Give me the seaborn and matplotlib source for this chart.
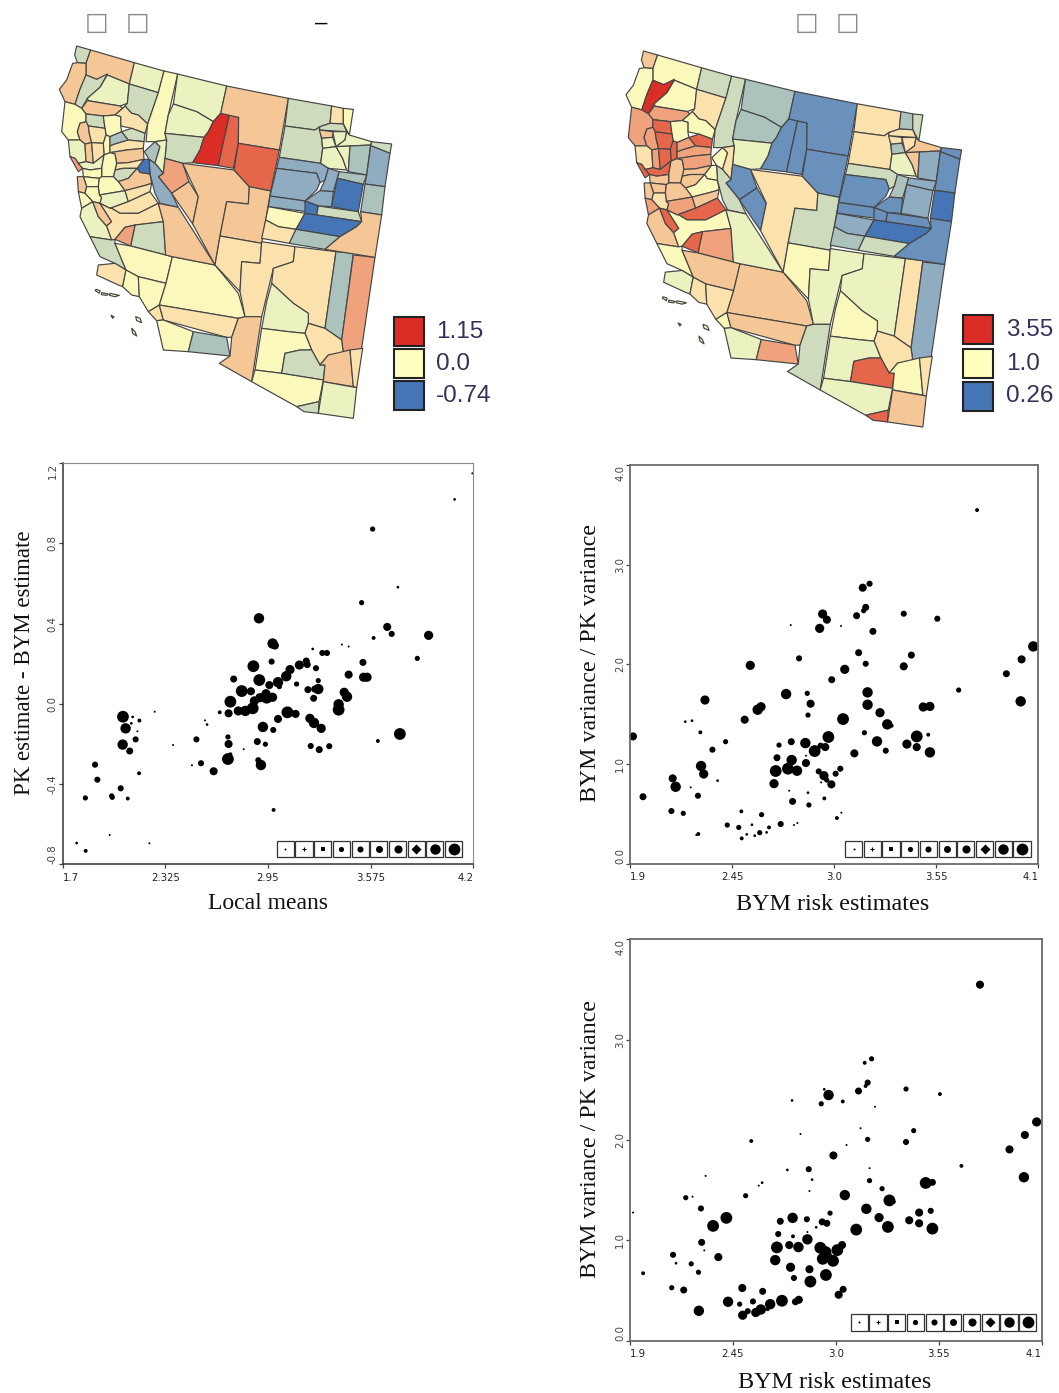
import matplotlib
matplotlib.use("Agg")
import matplotlib.pyplot as plt
import seaborn as sns
import pandas as pd
from matplotlib.patches import Rectangle

sns.set_theme(style="white")

# ---------- scatter data ----------
p1_x = [4.194,4.086,3.587,3.741,3.52,3.676,3.703,3.928,3.593,3.40,3.441,3.222,3.281,3.309,3.859,3.528,2.895,2.978,2.992,2.972,3.183,3.189,3.141,2.861,3.084,3.242,3.061,3.441,3.532,3.553,2.741,2.897,3.256,3.011,3.124,2.958,3.019,2.79,2.846,3.193,3.234,3.256,3.414,3.431,3.228,2.721,2.867,2.938,2.901,2.942,2.978,3.38,3.38,2.857,2.812,2.769,2.71,2.656,3.068,3.118,2.067,2.126,2.167,2.118,2.083,2.155,2.566,2.579,3.011,3.205,3.23,3.274,2.919,2.982,3.753,3.619,2.706,2.71,2.885,2.934,2.144,2.065,2.108,2.514,2.372,2.802,3.21,3.262,3.323,2.721,2.706,2.891,2.907,2.542,2.487,2.619,1.897,1.911,2.165,2.053,1.838,1.998,2.002,2.096,2.984,1.986,1.785,2.228,1.84,2.26]
p1_y = [1.150,1.02,0.872,0.582,0.505,0.384,0.349,0.342,0.329,0.296,0.286,0.274,0.254,0.254,0.227,0.207,0.427,0.301,0.291,0.211,0.214,0.196,0.194,0.188,0.171,0.178,0.138,0.146,0.133,0.133,0.124,0.119,0.116,0.108,0.099,0.094,0.086,0.064,0.063,0.071,0.074,0.074,0.058,0.036,0.028,0.011,0.015,0.051,0.031,0.031,0.033,-0.002,-0.029,-0.022,-0.035,-0.035,-0.047,-0.042,-0.042,-0.050,-0.064,-0.065,-0.083,-0.097,-0.122,-0.137,-0.082,-0.103,-0.075,-0.072,-0.095,-0.122,-0.115,-0.13,-0.15,-0.185,-0.165,-0.2,-0.188,-0.201,-0.177,-0.203,-0.235,-0.177,-0.205,-0.226,-0.21,-0.228,-0.211,-0.251,-0.275,-0.281,-0.305,-0.296,-0.306,-0.336,-0.303,-0.378,-0.346,-0.421,-0.469,-0.459,-0.466,-0.472,-0.529,-0.654,-0.694,-0.695,-0.733,-0.039]
p1_size = [1,2,4,2,4,7,5,8,3,1,1,2,5,5,4,6,9,9,7,5,6,6,8,10,8,5,9,7,8,8,6,10,4,9,4,7,4,10,7,6,6,9,8,9,6,10,8,8,8,10,8,9,10,10,9,8,7,3,10,7,10,2,3,2,9,1,1,2,7,8,9,8,9,5,10,3,4,7,6,4,5,9,6,5,1,1,5,6,5,3,10,5,9,5,1,7,5,5,3,5,4,4,4,3,3,1,2,1,3,1]

p2_x = [3.770,3.191,3.154,3.17,3.159,3.375,2.938,3.121,2.961,3.556,2.766,3.037,2.922,3.209,2.811,3.132,3.416,4.01,4.073,2.548,3.375,3.17,3.057,3.928,2.987,3.671,2.741,2.855,3.18,2.304,2.873,3.18,4.005,3.48,3.516,2.606,2.588,3.247,2.859,3.048,2.518,3.286,3.31,2.198,2.234,2.279,3.163,3.507,3.445,1.916,2.969,2.415,2.769,2.845,3.231,2.703,3.392,2.927,2.952,3.445,2.344,2.895,3.278,3.516,3.109,2.848,2.692,2.771,2.848,2.283,3.033,2.685,2.751,2.8,2.917,2.945,3.008,2.13,2.297,2.372,2.96,2.676,2.93,2.985,2.146,2.227,2.758,1.97,2.266,2.859,2.947,2.776,2.864,2.123,2.5,2.187,3.039,2.609,3.015,2.802,2.712,2.424,2.784,2.486,2.557,2.649,2.599,2.636,2.268,2.257,2.529,2.572,2.502]
p2_y = [3.548,2.809,2.769,2.572,2.538,2.508,2.505,2.488,2.448,2.458,2.394,2.384,2.361,2.331,2.06,2.117,2.093,2.05,2.18,1.99,1.98,2.006,1.95,1.906,1.846,1.742,1.702,1.709,1.719,1.642,1.605,1.595,1.629,1.572,1.578,1.575,1.545,1.515,1.491,1.451,1.445,1.398,1.384,1.425,1.435,1.318,1.314,1.294,1.277,1.277,1.271,1.224,1.224,1.21,1.227,1.19,1.2,1.184,1.17,1.17,1.144,1.13,1.134,1.117,1.107,1.083,1.063,1.04,1.01,0.98,0.953,0.93,0.953,0.933,0.926,0.883,0.903,0.856,0.9,0.833,0.839,0.803,0.816,0.796,0.772,0.766,0.732,0.672,0.682,0.712,0.655,0.625,0.589,0.528,0.525,0.505,0.512,0.492,0.458,0.408,0.398,0.388,0.388,0.364,0.391,0.364,0.311,0.314,0.298,0.288,0.294,0.281,0.254]
p2_size = [3,5,7,6,4,5,8,6,7,5,1,1,8,6,5,6,6,7,9,8,7,5,8,6,6,4,9,4,9,8,7,9,9,8,8,8,9,8,4,10,7,9,3,2,2,3,4,3,10,7,10,4,6,9,9,4,8,5,7,7,5,10,5,9,7,1,6,9,7,9,5,10,10,9,5,8,5,7,8,2,4,8,1,7,9,1,1,6,5,2,3,6,4,5,3,4,1,4,3,1,5,4,1,4,2,3,4,2,3,1,2,2,3]
p3_size = [7,4,3,5,3,4,2,6,9,3,2,3,4,1,1,1,4,7,8,3,5,4,1,7,7,3,2,5,1,1,2,4,9,10,6,2,1,4,1,9,4,10,3,4,1,5,9,5,7,1,4,10,9,5,8,6,7,6,6,7,10,2,10,10,10,1,5,3,9,6,7,10,7,9,10,10,10,5,1,7,7,9,10,10,2,4,8,3,4,7,10,5,10,4,7,6,6,6,7,7,10,9,6,4,5,9,9,3,9,3,5,8,8]

# ---------- map data: county outlines with (left map class, right map class) ----------
california = [
 ([(230,138),(272,150),(258,190),(232,188),(224,165)],4,8),
 ([(272,150),(403,188),(388,252),(322,225),(290,238),(258,225),(258,190)],8,6),
 ([(218,190),(232,188),(258,190),(258,225),(240,268),(225,313),(195,305),(178,268),(200,240)],8,6),
 ([(258,225),(290,238),(322,222),(300,262),(262,295),(245,325),(225,313),(240,268)],4,11),
 ([(403,188),(492,213),(475,278),(388,252)],5,4),
 ([(322,225),(388,252),(382,310),(360,318),(265,302),(262,295),(300,262)],5,6),
 ([(388,252),(475,278),(443,372),(415,345),(395,340),(375,318),(382,310)],4,7),
 ([(262,302),(360,318),(368,325),(345,345),(310,348),(258,342),(245,325)],8,9),
 ([(195,305),(225,313),(245,325),(258,342),(258,365),(240,370),(232,395),(240,420),(205,420),(185,395)],6,9),
 ([(258,342),(310,348),(315,385),(265,378),(258,365)],4,10),
 ([(368,325),(375,318),(395,340),(415,345),(443,372),(435,400),(395,385),(362,378),(362,350),(345,345)],7,6),
 ([(345,345),(362,350),(362,378),(365,395),(330,410),(318,405),(315,385),(310,348)],6,6),
 ([(258,365),(265,378),(268,400),(275,428),(255,432),(240,420),(232,395),(240,370)],8,9),
 ([(265,378),(315,385),(318,405),(310,430),(275,428),(268,400)],7,10),
 ([(318,405),(330,410),(330,458),(312,465),(310,430)],6,10),
 ([(330,410),(365,395),(385,420),(345,432),(330,438)],3,9),
 ([(365,395),(395,385),(435,400),(432,425),(385,420)],4,10),
 ([(330,438),(345,432),(385,420),(432,425),(430,445),(380,450),(330,458)],7,9),
 ([(330,458),(380,450),(430,445),(432,478),(385,488),(350,490),(345,462)],8,9),
 ([(350,490),(385,488),(432,478),(412,505),(370,505),(345,510)],7,8),
 ([(345,510),(370,505),(412,505),(385,535),(355,545),(340,530)],4,8),
 ([(412,505),(420,517),(450,522),(455,550),(440,555),(375,572),(355,545),(385,535)],8,6),
 ([(205,420),(240,420),(255,432),(258,485),(235,490),(225,475),(210,470)],5,7),
 ([(255,432),(275,428),(280,490),(258,485)],8,9),
 ([(275,428),(310,430),(312,465),(280,490)],7,10),
 ([(210,470),(225,475),(235,490),(248,505),(235,515)],9,10),
 ([(258,485),(280,490),(312,465),(305,505),(270,510),(248,505),(235,490)],5,10),
 ([(312,465),(330,458),(345,462),(350,490),(345,510),(340,530),(305,530),(305,505)],6,8),
 ([(248,505),(270,510),(305,505),(305,530),(298,535),(250,530)],6,8),
 ([(250,530),(298,535),(295,560),(260,560)],6,8),
 ([(305,530),(340,530),(355,545),(375,572),(298,585),(295,560),(298,535)],6,8),
 ([(232,530),(250,530),(260,560),(255,580),(235,575)],8,8),
 ([(255,580),(260,560),(295,560),(298,585),(305,592),(300,610),(278,605)],6,7),
 ([(298,585),(375,572),(385,605),(330,625),(300,610),(305,592)],5,9),
 ([(375,572),(440,555),(455,550),(450,575),(385,605)],7,8),
 ([(330,625),(385,605),(450,575),(475,610),(415,640),(360,640),(335,625)],7,10),
 ([(235,575),(255,580),(278,605),(245,625)],6,9),
 ([(245,625),(278,605),(295,650),(320,678),(335,720),(270,710),(240,650)],5,8),
 ([(278,605),(300,610),(335,665),(320,678),(295,650)],8,10),
 ([(300,610),(330,625),(335,625),(360,640),(415,640),(475,610),(490,665),(405,675),(375,682),(345,718),(335,720),(320,678),(335,665)],7,6),
 ([(405,675),(490,665),(497,765),(392,738)],4,9),
 ([(375,682),(405,675),(392,738),(345,718)],9,10),
 ([(270,710),(335,720),(345,718),(345,730),(378,810),(345,790),(300,770)],4,6),
 ([(345,730),(392,738),(497,765),(517,770),(498,850),(415,830),(378,810)],6,8),
 ([(295,795),(345,790),(378,810),(368,860),(355,855),(290,825)],7,5),
 ([(378,810),(415,830),(418,890),(395,885),(368,860)],6,7),
 ([(415,830),(498,850),(478,915),(445,935),(418,890)],6,7),
 ([(445,935),(478,915),(490,960),(470,962)],7,6),
 ([(517,770),(645,795),(715,880),(735,950),(715,955),(478,915),(498,850)],6,8),
 ([(478,915),(715,955),(695,1012),(680,1012),(490,960)],7,8),
 ([(470,962),(490,960),(580,995),(565,1055),(490,1050)],6,5),
 ([(580,995),(680,1012),(690,1068),(565,1055)],3,9),
 ([(288,868),(300,872),(298,880),(286,872)],6,6),
 ([(305,878),(325,882),(320,886),(304,884)],6,6),
 ([(330,880),(358,886),(345,890),(328,886)],6,6),
 ([(333,946),(342,950),(338,955)],6,6),
 ([(407,950),(420,955),(425,968),(410,962)],6,6),
 ([(395,985),(405,995),(410,1008),(398,1000)],6,6),
]
nevada = [
 ([(492,213),(533,222),(505,345),(495,400),(500,420),(465,425),(438,425),(443,372),(475,278)],6,4),
 ([(533,222),(680,258),(662,340),(640,365),(590,335),(520,312)],5,3),
 ([(505,345),(520,312),(590,335),(640,365),(625,395),(612,412),(495,400)],5,3),
 ([(495,400),(612,412),(600,450),(578,488),(548,490),(495,475),(500,420)],4,5),
 ([(433,455),(465,425),(480,440),(465,490),(447,478)],3,6),
 ([(465,490),(480,440),(465,425),(500,420),(495,475),(490,520)],5,7),
 ([(495,475),(548,490),(567,545),(515,580),(475,530),(490,520)],9,1),
 ([(447,478),(465,490),(490,520),(475,530),(515,580),(535,622),(480,610),(465,580),(450,522)],2,4),
 ([(432,478),(447,478),(450,522),(420,517),(412,505)],0,6),
 ([(515,580),(567,545),(595,590),(578,672)],8,1),
 ([(548,490),(702,510),(748,560),(745,612),(680,605),(660,708),(645,795),(578,672),(595,590)],8,7),
 ([(640,365),(662,340),(688,345),(655,497),(578,488),(600,450),(612,412),(625,395)],11,1),
 ([(688,345),(716,352),(715,430),(700,505),(655,497)],10,1),
 ([(680,258),(865,295),(838,450),(715,430),(716,352),(662,340)],8,1),
 ([(715,430),(838,450),(812,573),(748,560),(702,510)],10,1),
 ([(748,560),(812,573),(785,730),(660,708),(680,605),(745,612)],8,4),
 ([(660,708),(785,730),(780,790),(725,785),(720,875),(645,795)],7,6),
 ([(475,610),(535,622),(645,795),(517,770),(497,765),(490,665)],8,5),
]
arizona = [
 ([(720,875),(725,785),(780,790),(785,725),(885,740),(880,785),(820,805),(785,950),(735,950)],7,5),
 ([(715,955),(735,950),(785,950),(755,1145),(658,1090),(690,1068),(695,1012)],8,4),
 ([(885,740),(1008,755),(975,985),(925,970),(925,940),(880,910),(815,850),(820,805),(880,785)],7,5),
 ([(815,850),(880,910),(925,940),(925,970),(915,1000),(865,995),(785,985),(800,905)],5,6),
 ([(1008,755),(1060,760),(1045,875),(1025,1020),(975,985)],3,7),
 ([(1060,765),(1125,772),(1085,1045),(1030,1060),(1025,1020),(1045,875)],9,2),
 ([(925,970),(975,985),(1025,1020),(1030,1060),(985,1065),(960,1095),(935,1050),(915,1000)],7,7),
 ([(785,985),(865,995),(915,1000),(935,1050),(900,1050),(855,1060),(845,1120),(765,1110)],6,5),
 ([(855,1060),(900,1050),(935,1050),(960,1095),(975,1095),(970,1140),(845,1120)],4,10),
 ([(985,1065),(1050,1050),(1060,1160),(970,1145),(975,1095),(960,1095)],8,6),
 ([(1050,1050),(1088,1045),(1070,1163),(1060,1160)],7,7),
 ([(765,1110),(845,1120),(970,1140),(957,1205),(890,1220),(755,1145)],6,5),
 ([(890,1220),(957,1205),(955,1240),(912,1235)],4,10),
 ([(970,1145),(1070,1163),(1060,1255),(955,1240)],5,8),
]
utah = [
 ([(865,295),(995,318),(990,370),(960,380),(945,390),(855,378)],4,7),
 ([(995,318),(1030,325),(1030,372),(990,370)],7,3),
 ([(1030,325),(1060,328),(1048,405),(1030,372)],6,4),
 ([(855,378),(945,390),(960,380),(968,445),(962,490),(838,472)],4,7),
 ([(960,380),(990,370),(1030,372),(1040,395),(958,390)],4,7),
 ([(958,390),(998,395),(998,412),(965,415)],8,7),
 ([(965,415),(998,412),(1008,440),(968,445)],5,3),
 ([(998,395),(1040,395),(1035,420),(1008,440)],5,7),
 ([(1040,395),(1048,405),(1115,425),(1112,435),(1050,438),(1008,440),(1035,420)],5,8),
 ([(968,445),(1008,440),(1028,475),(1040,510),(985,505),(962,490)],5,5),
 ([(1008,440),(1050,438),(1045,515),(1040,510),(1028,475)],5,8),
 ([(1050,438),(1112,435),(1100,525),(1045,515)],3,2),
 ([(1115,425),(1175,432),(1170,460),(1112,437)],4,1),
 ([(1112,437),(1170,460),(1155,560),(1095,552),(1100,525)],2,1),
 ([(838,472),(962,490),(985,505),(975,540),(960,548),(950,520),(830,505)],2,4),
 ([(830,505),(950,520),(960,548),(950,570),(915,603),(810,588)],2,1),
 ([(985,505),(1018,515),(1000,575),(960,572),(975,540)],2,3),
 ([(960,572),(1000,575),(995,620),(955,618),(915,603)],2,1),
 ([(1018,515),(1100,525),(1090,553),(1012,535)],3,2),
 ([(1012,535),(1090,553),(1075,635),(995,620)],0,2),
 ([(1095,552),(1155,560),(1145,645),(1082,635)],3,0),
 ([(810,588),(915,603),(920,635),(805,620)],2,1),
 ([(915,603),(955,618),(950,645),(915,640)],0,1),
 ([(955,618),(1075,635),(1085,665),(950,645)],4,1),
 ([(805,620),(915,640),(888,688),(835,680),(797,660)],6,2),
 ([(915,640),(950,645),(1085,665),(1070,680),(1020,710),(888,688)],0,0),
 ([(797,660),(835,680),(888,688),(868,730),(785,715)],7,3),
 ([(888,688),(1020,710),(975,748),(868,730)],3,4),
 ([(1082,635),(1145,645),(1125,772),(975,748),(1020,710),(1070,680),(1085,665)],8,1),
]
counties = california + nevada + arizona + utah
class_colors = ["#4575B4","#6A90BC","#8FACC0","#ABC2BD","#CEDCBD","#EBF2BF","#FBF8BB",
                "#FBE2AD","#F5C796","#EFA27B","#E5664A","#D92D26"]

key_left = ["1.15","0.0","-0.74"]
key_right = ["3.55","1.0","0.26"]
key_colors = ["#D92D26","#FFFFBF","#4575B4"]

key_sizes = list(range(1,11))
key_markers = ["o","+","s","o","o","o","o","D","o","o"]
diam_px = {1:2.0,2:2.7,3:3.9,4:5.2,5:6.1,6:7.0,7:8.1,8:9.2,9:10.4,10:11.8}
sizes_pt2 = {k:(v*0.72)**2 for k,v in diam_px.items()}

W, H = 1059, 1393
fig = plt.figure(figsize=(W/100, H/100), dpi=100, facecolor="white")

def ax_px(l, t, r, b):
    return fig.add_axes([l/W, 1-b/H, (r-l)/W, (b-t)/H])

def draw_map(box, which):
    ax = ax_px(*box)
    ax.set_xlim(0, 1500); ax.set_ylim(1290, 0); ax.axis("off")
    for c in counties:
        xs, ys = zip(*c[0])
        ax.fill(xs, ys, facecolor=class_colors[c[which]], edgecolor="#454545", linewidth=0.85, joinstyle="round")
    return ax

draw_map((0, 0, 500, 430), 1)
draw_map((566, 4.5, 566+505, 4.5+434.3), 2)

def scatter_panel(box, x, y, size, xlim, ylim, xticks, xtl, yticks, ytl, xlab, ylab, xlab_px, ylab_px, heavy, fsx, fsy):
    l, t, r, b = box
    ax = ax_px(*box)
    df = pd.DataFrame({"x": x, "y": y, "size": size})
    sns.scatterplot(data=df, x="x", y="y", size="size", sizes=sizes_pt2, color="black",
                    linewidth=0, legend=False, ax=ax, clip_on=False)
    ax.set_xlim(*xlim); ax.set_ylim(*ylim)
    ax.set_xticks(xticks); ax.set_xticklabels(xtl, fontsize=7.3, family="DejaVu Sans", color="#222222")
    ax.set_yticks(yticks); ax.set_yticklabels(ytl, fontsize=7.3, family="DejaVu Sans", color="#444444", rotation=90)
    ax.tick_params(axis="x", direction="out", length=3, width=0.9, color="#444444", pad=3, bottom=True)
    ax.tick_params(axis="y", direction="out", length=3, width=0.9, color="#444444", pad=0.5, left=True)
    xl = ax.get_xticklabels(); xl[0].set_ha("left"); xl[-1].set_ha("right")
    yl = ax.get_yticklabels(); yl[0].set_va("bottom"); yl[-1].set_va("top")
    for lab in yl[1:-1]:
        lab.set_va("center")
    for s in ax.spines.values():
        s.set_visible(True)
        s.set_color("#6a6a6a" if heavy else "#8a8a8a")
        s.set_linewidth(1.3 if heavy else 0.8)
    if not heavy:
        ax.spines["left"].set_color("#333333"); ax.spines["bottom"].set_color("#333333")
        ax.spines["left"].set_linewidth(1.1); ax.spines["bottom"].set_linewidth(1.1)
    ax.set_xlabel(xlab, fontsize=fsx, family="Liberation Serif", color="#111111", va="center")
    ax.set_ylabel(ylab, fontsize=fsy, family="Liberation Serif", color="#111111", va="center")
    ax.xaxis.set_label_coords((xlab_px[0]-l)/(r-l), 1-(xlab_px[1]-t)/(b-t))
    ax.yaxis.set_label_coords((ylab_px[0]-l)/(r-l), 1-(ylab_px[1]-t)/(b-t))
    return ax

scatter_panel((62.7,463.3,473.3,864.3), p1_x, p1_y, p1_size, (1.7,4.2), (-0.8,1.2),
              [1.7,2.325,2.95,3.575,4.2], ["1.7","2.325","2.95","3.575","4.2"],
              [-0.8,-0.4,0.0,0.4,0.8,1.2], ["-0.8","-0.4","0.0","0.4","0.8","1.2"],
              "Local means", "PK estimate - BYM estimate", (268,904), (25,663), False, 17, 16.5)
bym_xt = [1.9,2.45,3.0,3.55,4.1]; bym_xl = ["1.9","2.45","3.0","3.55","4.1"]
bym_yt = [0,1,2,3,4]; bym_yl = ["0.0","1.0","2.0","3.0","4.0"]
scatter_panel((630,465,1038.3,863.7), p2_x, p2_y, p2_size, (1.9,4.1), (0,4),
              bym_xt, bym_xl, bym_yt, bym_yl, "BYM risk estimates", "BYM variance / PK variance",
              (833,905), (590,663), True, 17.4, 17.2)
scatter_panel((630,939.3,1041.7,1340.7), p2_x, p2_y, p3_size, (1.9,4.1), (0,4),
              bym_xt, bym_xl, bym_yt, bym_yl, "BYM risk estimates", "BYM variance / PK variance",
              (835,1383), (590,1139), True, 17.4, 17.2)

# overlay in figure pixels: map keys, size keys, placeholder glyphs
ov = fig.add_axes([0,0,1,1], facecolor="none")
ov.set_xlim(0,W); ov.set_ylim(H,0); ov.axis("off")

def map_key(x0, y_tops, labels, xlab):
    for yt, col, lab in zip(y_tops, key_colors, labels):
        ov.add_patch(Rectangle((x0, yt), 30, 29, facecolor=col, edgecolor="#222222", linewidth=1.5))
        ov.text(xlab, yt+15, lab, fontsize=17.5, family="Liberation Sans", color="#33335a", va="center", ha="left")
map_key(393.5, [316.5,348.5,380.5], key_left, 436)
map_key(962.5, [315,348.5,381.5], key_right, 1006)

def size_key(x0, y0):
    for i, (k, m) in enumerate(zip(key_sizes, key_markers)):
        bx = x0 + i*18.7
        ov.add_patch(Rectangle((bx, y0), 17.2, 16.6, facecolor="white", edgecolor="#333333", linewidth=0.9))
        s = sizes_pt2[k]
        if m == "D": s *= 0.6
        if m == "s": s *= 0.9
        if m == "+":
            ov.scatter([bx+8.6],[y0+8.3], s=6, marker="+", color="black", linewidths=0.8)
        else:
            ov.scatter([bx+8.6],[y0+8.3], s=s, marker=m, color="black", linewidths=0)
size_key(276.7, 840.7)
size_key(845, 840.7)
size_key(850.7, 1314)

for x in [96.5, 137.5, 806.5, 847.5]:
    ov.text(x, 22.5, "\u25A1", fontsize=18, family="DejaVu Sans", color="#8a8a8a", ha="center", va="center")
ov.text(321, 23, "\u2013", fontsize=16, family="Liberation Sans", color="black", ha="center", va="center")

fig.savefig("out.png", dpi=100, facecolor="white")
